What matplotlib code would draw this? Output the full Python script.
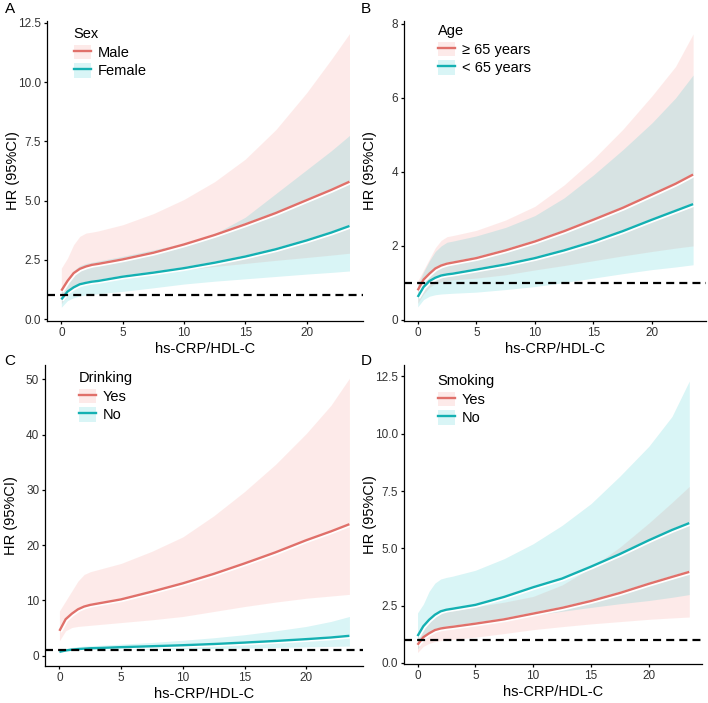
import matplotlib
matplotlib.use("Agg")
import matplotlib.pyplot as plt
import matplotlib.patheffects as pe
from matplotlib.patches import Patch
from matplotlib.lines import Line2D
from matplotlib.legend_handler import HandlerTuple

plt.rcParams['font.family'] = ['Liberation Sans', 'DejaVu Sans']

##### Data #####
x = [0, 0.5, 1, 1.5, 2, 2.5, 3, 5, 7.5, 10, 12.5, 15, 17.5, 20, 22, 23.5]

# A - Sex
male_mid = [1.2, 1.61, 1.94, 2.12, 2.22, 2.29, 2.33, 2.52, 2.8, 3.15, 3.55, 4.0, 4.48, 5.02, 5.45, 5.8]
male_hi = [2.15, 2.57, 3.14, 3.49, 3.63, 3.67, 3.72, 3.98, 4.45, 5.05, 5.8, 6.75, 8.0, 9.55, 10.95, 12.05]
male_lo = [0.65, 1.0, 1.3, 1.45, 1.55, 1.6, 1.63, 1.75, 1.92, 2.08, 2.22, 2.35, 2.48, 2.6, 2.7, 2.78]
female_mid = [0.83, 1.16, 1.34, 1.47, 1.53, 1.58, 1.61, 1.79, 1.96, 2.15, 2.38, 2.64, 2.95, 3.32, 3.65, 3.93]
female_hi = [1.3, 1.7, 2.05, 2.25, 2.35, 2.4, 2.45, 2.65, 2.92, 3.2, 3.6, 4.3, 5.3, 6.3, 7.1, 7.75]
female_lo = [0.5, 0.78, 0.9, 0.98, 1.02, 1.05, 1.07, 1.17, 1.32, 1.48, 1.6, 1.7, 1.8, 1.9, 1.97, 2.03]

# B - Age
old_mid = [0.8, 1.09, 1.25, 1.39, 1.47, 1.52, 1.55, 1.67, 1.88, 2.12, 2.4, 2.71, 3.03, 3.39, 3.68, 3.93]
old_hi = [1.05, 1.35, 1.65, 1.95, 2.15, 2.25, 2.28, 2.42, 2.7, 3.07, 3.65, 4.35, 5.15, 6.06, 6.85, 7.73]
old_lo = [0.45, 0.7, 0.88, 0.98, 1.03, 1.06, 1.08, 1.13, 1.22, 1.35, 1.47, 1.6, 1.73, 1.85, 1.94, 2.0]
young_mid = [0.62, 0.89, 1.05, 1.14, 1.2, 1.23, 1.25, 1.36, 1.5, 1.67, 1.88, 2.12, 2.4, 2.71, 2.95, 3.13]
young_hi = [0.95, 1.3, 1.6, 1.85, 2.0, 2.1, 2.13, 2.27, 2.5, 2.82, 3.3, 3.92, 4.6, 5.33, 6.0, 6.62]
young_lo = [0.35, 0.55, 0.64, 0.68, 0.7, 0.71, 0.72, 0.75, 0.82, 0.9, 1.01, 1.13, 1.25, 1.36, 1.43, 1.49]

# C - Drinking
drink_mid = [4.5, 6.6, 7.6, 8.4, 8.9, 9.2, 9.4, 10.2, 11.6, 13.1, 14.8, 16.7, 18.7, 20.9, 22.5, 23.8]
drink_hi = [8.1, 9.9, 11.7, 13.5, 14.7, 15.2, 15.5, 16.7, 18.9, 21.5, 25.3, 29.7, 34.6, 40.2, 45.3, 50.2]
drink_lo = [2.7, 4.5, 5.1, 5.3, 5.4, 5.5, 5.6, 6.0, 6.5, 7.1, 8.0, 8.9, 9.7, 10.4, 10.8, 11.1]
nodrink_mid = [0.7, 0.95, 1.1, 1.2, 1.28, 1.35, 1.38, 1.55, 1.72, 1.9, 2.12, 2.38, 2.67, 3.0, 3.3, 3.6]
nodrink_hi = [1.0, 1.3, 1.5, 1.65, 1.75, 1.8, 1.85, 2.1, 2.4, 2.8, 3.25, 3.8, 4.5, 5.3, 6.2, 7.1]
nodrink_lo = [0.5, 0.7, 0.85, 0.92, 0.97, 1.0, 1.02, 1.1, 1.17, 1.25, 1.32, 1.4, 1.5, 1.6, 1.68, 1.75]

# D - Smoking
smoke_mid = [0.79, 1.12, 1.29, 1.43, 1.5, 1.54, 1.57, 1.71, 1.9, 2.15, 2.4, 2.7, 3.05, 3.45, 3.75, 3.97]
smoke_hi = [1.2, 1.5, 1.8, 2.05, 2.2, 2.25, 2.28, 2.45, 2.65, 2.9, 3.4, 4.15, 5.05, 6.1, 7.0, 7.7]
smoke_lo = [0.45, 0.72, 0.85, 0.93, 0.97, 1.0, 1.02, 1.12, 1.28, 1.45, 1.58, 1.7, 1.8, 1.9, 1.96, 2.0]
nosmoke_mid = [1.17, 1.6, 1.88, 2.1, 2.25, 2.32, 2.36, 2.53, 2.88, 3.3, 3.68, 4.2, 4.75, 5.35, 5.8, 6.1]
nosmoke_hi = [2.18, 2.56, 3.12, 3.48, 3.66, 3.73, 3.78, 4.04, 4.55, 5.2, 6.0, 6.95, 8.15, 9.45, 10.75, 12.3]
nosmoke_lo = [0.6, 1.0, 1.25, 1.38, 1.46, 1.5, 1.53, 1.68, 1.88, 2.08, 2.25, 2.42, 2.58, 2.72, 2.86, 2.98]

RED = '#F8766D'
TEAL = '#00BFC4'
RED_LINE = '#E0706A'
TEAL_LINE = '#14B0B2'

W, H = 708, 703
fig = plt.figure(figsize=(W / 100, H / 100), dpi=100)


def px_axes(left, top, right, bottom):
    return fig.add_axes([left / W, 1 - bottom / H, (right - left) / W, (bottom - top) / H])


def draw_panel(ax, title, labels, red, teal, yticks, ylabels, ylim, w_px, h_px, leg_px):
    # ribbons first, then the lines (like ggplot)
    ax.fill_between(x, red[2], red[1], color=RED, alpha=0.15, lw=0)
    ax.fill_between(x, teal[2], teal[1], color=TEAL, alpha=0.15, lw=0)
    halo = [pe.Stroke(linewidth=2.8, foreground='white', offset=(0.5, -0.6)), pe.Normal()]
    ax.plot(x, red[0], color=RED_LINE, lw=1.7, path_effects=halo, solid_capstyle='butt')
    ax.plot(x, teal[0], color=TEAL_LINE, lw=1.7, path_effects=halo, solid_capstyle='butt')
    ax.axhline(1, color='black', lw=1.6, dashes=(3.6, 2.3))

    ax.set_xlim(-1.17, 24.6)
    ax.set_ylim(*ylim)
    ax.set_xticks([0, 5, 10, 15, 20])
    ax.set_yticks(yticks)
    ax.set_yticklabels(ylabels)
    for s in ['top', 'right']:
        ax.spines[s].set_visible(False)
    for s in ['left', 'bottom']:
        ax.spines[s].set_linewidth(0.9)
    ax.tick_params(length=2.2, width=0.9, color='black', labelsize=8.5,
                   labelcolor='#333333', pad=2)
    ax.set_xlabel('hs-CRP/HDL-C', fontsize=10.5, va='center')
    ax.xaxis.set_label_coords(0.5, -28 / h_px)
    ax.set_ylabel('HR (95%CI)', fontsize=10.5, va='center')
    ax.yaxis.set_label_coords(-34 / w_px, 0.5)

    # legend placed inside the panel, top-left
    dx, dy = leg_px
    handles = [(Patch(facecolor=RED, alpha=0.15, lw=0), Line2D([], [], color=RED_LINE, lw=1.7)),
               (Patch(facecolor=TEAL, alpha=0.15, lw=0), Line2D([], [], color=TEAL_LINE, lw=1.7))]
    ax.legend(handles, labels, title=title, loc='upper left',
              bbox_to_anchor=((dx - 5) / w_px, 1 - (dy - 9.2) / h_px), frameon=False,
              fontsize=10.5, title_fontsize=10.5, handlelength=1.2, handleheight=1.15,
              handletextpad=0.45, labelspacing=0.22, borderpad=0.25,
              borderaxespad=0, alignment='left',
              handler_map={tuple: HandlerTuple(ndivide=1)})


# A
axA = px_axes(47, 21, 363, 321)
draw_panel(axA, 'Sex', ['Male', 'Female'],
           (male_mid, male_hi, male_lo), (female_mid, female_hi, female_lo),
           [0, 2.5, 5, 7.5, 10, 12.5], ['0.0', '2.5', '5.0', '7.5', '10.0', '12.5'],
           (-0.08, 12.58), 316, 300, (28, 12))

# B
axB = px_axes(404, 21, 706, 321)
draw_panel(axB, 'Age', ['\u2265 65 years', '< 65 years'],
           (old_mid, old_hi, old_lo), (young_mid, young_hi, young_lo),
           [0, 2, 4, 6, 8], ['0', '2', '4', '6', '8'],
           (-0.03, 8.08), 302, 300, (35, 9))

# C
axC = px_axes(45, 365, 363, 666)
draw_panel(axC, 'Drinking', ['Yes', 'No'],
           (drink_mid, drink_hi, drink_lo), (nodrink_mid, nodrink_hi, nodrink_lo),
           [0, 10, 20, 30, 40, 50], ['0', '10', '20', '30', '40', '50'],
           (-1.86, 52.6), 318, 301, (35, 12))

# D
axD = px_axes(404, 365, 702, 664)
draw_panel(axD, 'Smoking', ['Yes', 'No'],
           (smoke_mid, smoke_hi, smoke_lo), (nosmoke_mid, nosmoke_hi, nosmoke_lo),
           [0, 2.5, 5, 7.5, 10, 12.5], ['0.0', '2.5', '5.0', '7.5', '10.0', '12.5'],
           (-0.05, 13.0), 298, 299, (35, 15))

# panel letters
for lab, (lx, ly) in zip('ABCD', [(10, 9), (366, 9), (10, 361), (366, 361)]):
    fig.text(lx / W, 1 - ly / H, lab, fontsize=11, ha='center', va='center')

fig.savefig('out.png', dpi=100)
